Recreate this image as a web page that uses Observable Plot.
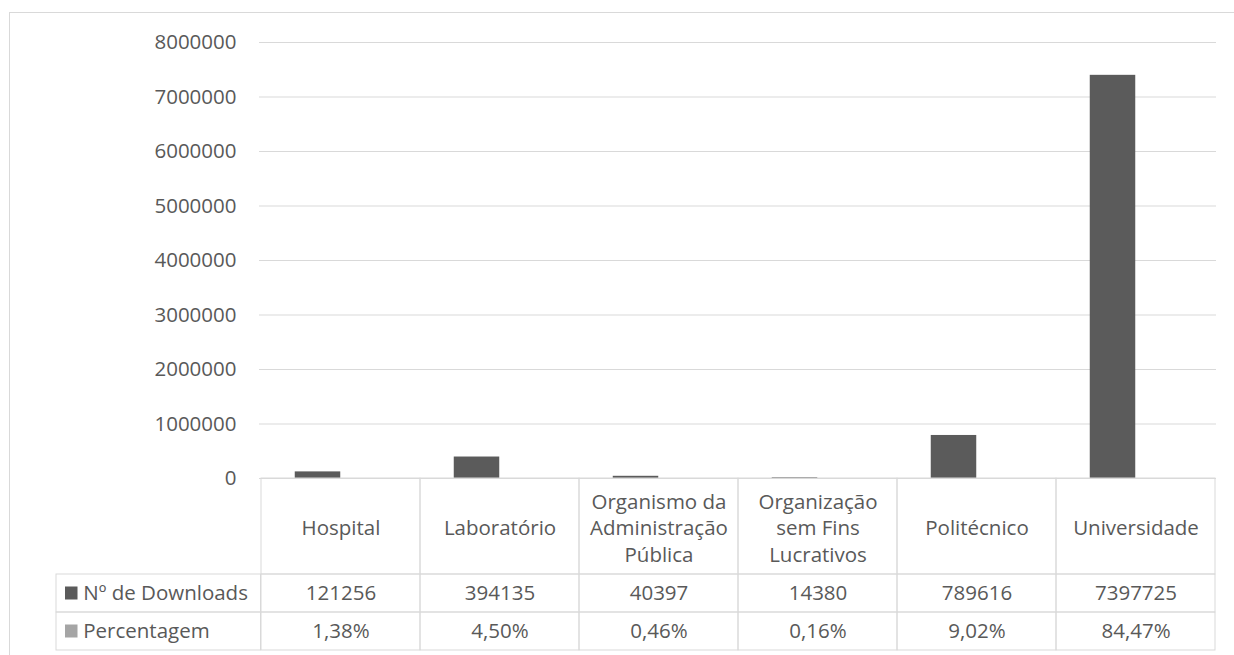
<!DOCTYPE html>
<html><head><meta charset="utf-8">
<script src="https://cdn.jsdelivr.net/npm/d3@7"></script>
<script src="https://cdn.jsdelivr.net/npm/@observablehq/plot@0.6"></script>
<style>
html,body{margin:0;padding:0;background:#fff;overflow:hidden;}
#wrap{position:relative;width:1234px;height:655px;overflow:hidden;}
#border{position:absolute;left:9px;top:12px;width:1300px;height:700px;border:1px solid #d9d9d9;box-sizing:border-box;}
#chart{position:absolute;left:0;top:0;}
</style></head><body>
<div id="wrap"><div id="border"></div><div id="chart"></div></div>
<script>
// ---- data ----
const categories = ["Hospital", "Laboratório", "Organismo da Administração Pública", "Organização sem Fins Lucrativos", "Politécnico", "Universidade"];
const categoryLabels = ["Hospital", "Laboratório", "Organismo da\nAdministração\nPública", "Organização\nsem Fins\nLucrativos", "Politécnico", "Universidade"];
const downloads = [121256, 394135, 40397, 14380, 789616, 7397725];
const percentages = [0.0138, 0.0450, 0.0046, 0.0016, 0.0902, 0.8447];
const percentLabels = ["1,38%", "4,50%", "0,46%", "0,16%", "9,02%", "84,47%"];
const seriesNames = ["Nº de Downloads", "Percentagem"];
const seriesColors = ["#5b5b5b", "#a5a5a5"];
const yTicks = [0, 1000000, 2000000, 3000000, 4000000, 5000000, 6000000, 7000000, 8000000];

// ---- layout ----
const W = 1234, H = 655, ML = 259, MR = 18, MT = 42, MB = 177;
const frameH = H - MT - MB;               // 436
const step = (W - ML - MR) / categories.length;
const barW = 46;
const catRowH = 96, rowH = 38;
const labelColLeft = 54;
const textColor = "#595959", lineColor = "#d9d9d9";
const fs = 20.5;

const rows = [];
categories.forEach((c, i) => {
  rows.push({cat: c, series: seriesNames[0], value: downloads[i]});
  rows.push({cat: c, series: seriesNames[1], value: percentages[i]});
});

const rowInsets = (top, h) => ({insetTop: frameH + top, insetBottom: -(top + h)});
const txt = {frameAnchor: "bottom", lineAnchor: "middle", fill: textColor, fontSize: fs};

const marks = [
  Plot.gridY(yTicks, {stroke: lineColor, strokeOpacity: 1, strokeWidth: 1.2}),
  Plot.barY(rows.filter(d => d.series === seriesNames[0]), {
    x: "cat", y: "value", fill: seriesColors[0],
    insetLeft: step / 2 - barW, insetRight: step / 2
  }),
  Plot.barY(rows.filter(d => d.series === seriesNames[1]), {
    x: "cat", y: "value", fill: seriesColors[1],
    insetLeft: step / 2, insetRight: step / 2 - barW
  }),
  // table borders
  Plot.cell(categories, {x: d => d, fill: "none", stroke: lineColor, ...rowInsets(0, catRowH)}),
  Plot.cell(categories, {x: d => d, fill: "none", stroke: lineColor, ...rowInsets(catRowH, rowH)}),
  Plot.cell(categories, {x: d => d, fill: "none", stroke: lineColor, ...rowInsets(catRowH + rowH, rowH)}),
  Plot.cell([categories[0]], {x: d => d, fill: "none", stroke: lineColor,
    insetLeft: labelColLeft - ML, insetRight: step, ...rowInsets(catRowH, rowH)}),
  Plot.cell([categories[0]], {x: d => d, fill: "none", stroke: lineColor,
    insetLeft: labelColLeft - ML, insetRight: step, ...rowInsets(catRowH + rowH, rowH)}),
  // table texts
  Plot.text(categories, {x: d => d, text: (d, i) => categoryLabels[i], ...txt,
    dy: catRowH / 2 + 0.5, lineHeight: 26.5 / fs}),
  Plot.text(categories, {x: d => d, text: (d, i) => String(downloads[i]), ...txt,
    dy: catRowH + rowH / 2}),
  Plot.text(categories, {x: d => d, text: (d, i) => percentLabels[i], ...txt,
    dy: catRowH + rowH + rowH / 2})
];

seriesNames.forEach((name, k) => {
  const top = catRowH + k * rowH;
  const sx = 63 - ML, sSize = 13;
  marks.push(Plot.cell([categories[0]], {x: d => d, fill: seriesColors[k],
    insetLeft: sx, insetRight: step - (sx + sSize),
    insetTop: frameH + top + (rowH - sSize) / 2, insetBottom: -(top + (rowH + sSize) / 2)}));
  marks.push(Plot.text([categories[0]], {x: d => d, text: () => name, ...txt,
    textAnchor: "start", dx: 81 - (ML + step / 2), dy: top + rowH / 2}));
});

const chart = Plot.plot({
  width: W, height: H,
  marginLeft: ML, marginRight: MR, marginTop: MT, marginBottom: MB,
  style: {fontFamily: "'Open Sans', sans-serif", fontSize: fs + "px", color: textColor, background: "transparent", overflow: "visible"},
  x: {domain: categories, padding: 0, axis: null},
  y: {domain: [0, 8000000], ticks: yTicks, tickSize: 0, tickPadding: 23, tickFormat: d => String(d), label: null},
  marks
});
document.getElementById("chart").appendChild(chart);
</script>
</body></html>
